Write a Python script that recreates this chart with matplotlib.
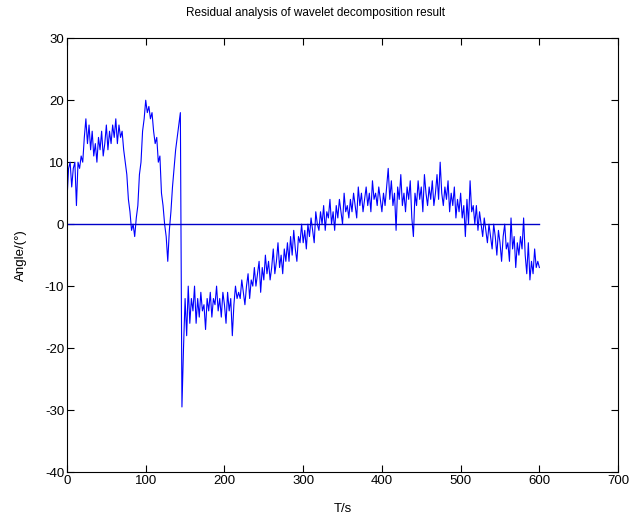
import matplotlib
matplotlib.use("Agg")
import matplotlib.pyplot as plt
import numpy as np

plt.rcParams['font.family'] = ['Liberation Sans', 'DejaVu Sans']
plt.rcParams['axes.unicode_minus'] = False

# sample times (2 s step) and residual angle
t = np.arange(0, 602, 2)
resid = [
    4, 9, 10, 6, 9, 10, 3, 10, 9, 11,
    10, 14, 17, 13, 16, 12, 15, 11, 13, 10,
    14, 12, 15, 11, 13, 16, 12, 15, 13, 16,
    14, 17, 13, 16, 14, 15, 12, 10, 8, 4,
    2, -1, 0, -2, 1, 3, 8, 10, 15, 17,
    20, 18, 19, 17, 18, 15, 13, 14, 10, 11,
    5, 3, 0, -2, -6, -1, 2, 6, 9, 12,
    14, 16, 18, -29.5, -20, -12, -18, -10, -16, -12,
    -14, -10, -16, -12, -15, -11, -14, -13, -17, -12,
    -14, -11, -15, -12, -13, -10, -14, -12, -15, -11,
    -13, -16, -11, -14, -12, -18, -13, -10, -12, -11,
    -12, -9, -11, -13, -10, -8, -12, -9, -10, -7,
    -10, -8, -6, -11, -7, -9, -5, -8, -6, -9,
    -7, -4, -8, -6, -3, -7, -5, -8, -4, -6,
    -3, -6, -2, -5, -1, -4, -6, -2, -3, 0,
    -3, -1, -4, 0, -2, 1, -1, -3, 2, 0,
    -1, 2, 0, 3, -1, 2, 1, 4, 0, 2,
    -1, 3, 1, 4, 2, 0, 5, 2, 3, 1,
    4, 2, 5, 3, 1, 6, 3, 5, 2, 4,
    6, 3, 5, 2, 7, 4, 5, 3, 6, 4,
    2, 5, 3, 6, 9, 4, 7, 3, 5, -1,
    6, 4, 8, 3, 5, 2, 6, 4, 7, 1,
    -2, 5, 3, 7, 4, 6, 2, 8, 5, 3,
    6, 4, 7, 3, 5, 8, 4, 10, 5, 3,
    6, 4, 7, 2, 5, 3, 6, 1, 4, 2,
    5, 1, 3, -2, 4, 0, 7, 2, 3, 0,
    3, -1, 2, 0, -2, 1, -1, -3, 0, -2,
    -4, 0, -2, -5, -1, -3, -6, -2, 0, -4,
    -3, -6, 1, -4, -2, -7, -3, -5, -2, -4,
    1, -5, -8, -3, -9, -6, -8, -4, -7, -6,
    -7,
]
zero_x = [0, 600]
zero_y = [0, 0]

fig = plt.figure(figsize=(6.32, 5.17), dpi=100)
ax = fig.add_axes([0.106, 0.087, 0.872, 0.839])

ax.plot(t, resid, color='#0000ff', linewidth=0.8)
ax.plot(zero_x, zero_y, color='#0000c8', linewidth=1.0)

ax.set_xlim(0, 700)
ax.set_ylim(-40, 30)
ax.set_xticks(range(0, 701, 100))
ax.set_yticks(range(-40, 31, 10))
ax.tick_params(direction='in', top=True, right=True, labelsize=9.5, length=5, pad=2)
for s in ax.spines.values():
    s.set_linewidth(0.8)

# title sits centred on the figure, not the axes
fig.text(0.5, 0.975, 'Residual analysis of wavelet decomposition result',
         fontsize=8.5, ha='center', va='center')
ax.set_xlabel('T/s', fontsize=9.5, labelpad=12)
ax.set_ylabel('Angle/(°)', fontsize=9.5, labelpad=13)

fig.savefig('out.png', dpi=100)
